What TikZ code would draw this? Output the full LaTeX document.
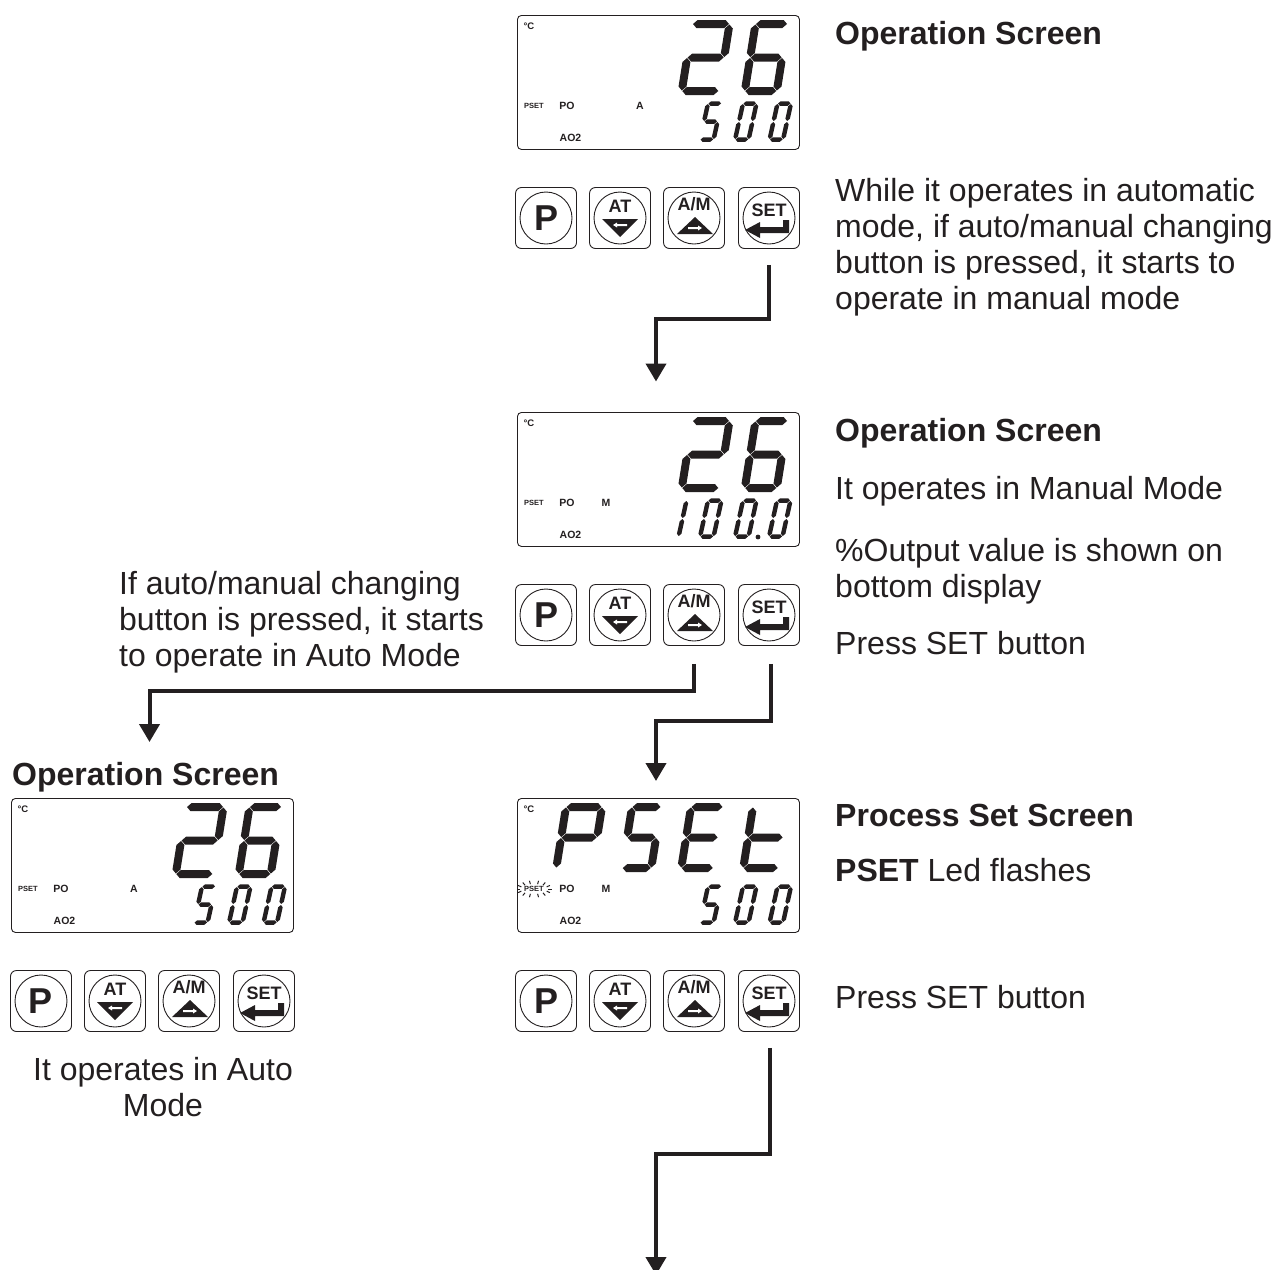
\documentclass[tikz,border=0pt]{standalone}
\usepackage{fontspec}
\setmainfont{Liberation Sans}
\usepackage{xcolor}
\definecolor{inkdark}{RGB}{35,31,32}
\usetikzlibrary{arrows.meta,calc}
% seven segment digit, (x,y) is the top left corner of its centre lines
\newcommand{\hseg}[1]{(0.5,#1) -- ({0.5+\segT/2},{#1-\segT/2}) -- ({\segW-0.5-\segT/2},{#1-\segT/2}) -- ({\segW-0.5},#1) -- ({\segW-0.5-\segT/2},{#1+\segT/2}) -- ({0.5+\segT/2},{#1+\segT/2}) -- cycle}
\newcommand{\vseg}[3]{(#1,{#2+0.5}) -- ({#1+\segT/2},{#2+0.5+\segT/2}) -- ({#1+\segT/2},{#3-0.5-\segT/2}) -- (#1,{#3-0.5}) -- ({#1-\segT/2},{#3-0.5-\segT/2}) -- ({#1-\segT/2},{#2+0.5+\segT/2}) -- cycle}
\newcommand{\sega}{\hseg{0}}
\newcommand{\segg}{\hseg{\segM}}
\newcommand{\segd}{\hseg{\segH}}
\newcommand{\segf}{\vseg{0}{0}{\segM}}
\newcommand{\sege}{\vseg{0}{\segM}{\segH}}
\newcommand{\segb}{\vseg{\segW}{0}{\segM}}
\newcommand{\segc}{\vseg{\segW}{\segM}{\segH}}
\newcommand{\segdigit}[7][0.16]{%
  \begin{scope}[shift={(#2,#3)},xslant=#1]
    \def\segW{#4}\def\segH{#5}\def\segT{#6}
    \pgfmathsetmacro{\segM}{#5/2}
    \foreach \s in {#7} {
      \expandafter\let\expandafter\segpath\csname seg\s\endcsname
      \fill[inkdark] \segpath;
    }
  \end{scope}}
\newcommand{\topread}{%
  \segdigit{175.5}{9}{37}{67}{8}{a,b,g,e,d}
  \segdigit{238.5}{9}{32}{67}{8}{a,f,g,e,c,d}}
\newcommand{\topset}{%
  \segdigit{49}{9}{36}{61}{8}{a,b,f,g,e}
  \segdigit{115}{9}{29}{61}{8}{a,f,g,c,d}
  \segdigit{174}{9}{32}{61}{8}{a,f,g,e,d}
  \segdigit{236}{9}{35}{61}{8}{f,g,e,d}}
\newcommand{\lowfive}{%
  \segdigit[0.22]{191}{88.5}{13.5}{36}{4.5}{a,f,g,c,d}
  \segdigit[0.22]{226}{88.5}{13.5}{36}{4.5}{a,b,c,d,e,f}
  \segdigit[0.22]{260.5}{88.5}{13.5}{36}{4.5}{a,b,c,d,e,f}}
\newcommand{\lowhundred}{%
  \segdigit[0.22]{156}{88.5}{13.5}{36}{4.5}{b,c}
  \segdigit[0.22]{191}{88.5}{13.5}{36}{4.5}{a,b,c,d,e,f}
  \segdigit[0.22]{226}{88.5}{13.5}{36}{4.5}{a,b,c,d,e,f}
  \segdigit[0.22]{260}{88.5}{13.5}{36}{4.5}{a,b,c,d,e,f}
  \fill[inkdark] (241,125) circle (2.4);}
\tikzset{
  lcdbox/.style={draw=inkdark, line width=0.9pt, rounded corners=4pt, minimum width=282pt,
                 minimum height=134pt, inner sep=0pt, anchor=north west},
  lcdmark/.style={text=inkdark, inner sep=0pt, font=\bfseries\fontsize{10.5}{12}\selectfont},
  lcdled/.style={text=inkdark, inner sep=0pt, font=\bfseries\fontsize{7.5}{9}\selectfont},
  keybox/.style={draw=inkdark, line width=0.9pt, rounded corners=6pt, minimum size=61pt, inner sep=0pt},
  keydisc/.style={draw=inkdark, line width=0.9pt, circle, minimum size=52pt, inner sep=0pt},
  keyletter/.style={text=inkdark, inner sep=0pt, font=\bfseries\fontsize{18}{20}\selectfont},
  headtext/.style={text=inkdark, inner sep=0pt, anchor=base west, font=\bfseries\fontsize{32}{36}\selectfont},
  bodytext/.style={text=inkdark, inner sep=0pt, anchor=north west, align=left, font=\fontsize{32}{36}\selectfont},
  flow/.style={draw=inkdark, line width=4pt, -{Triangle[length=18pt,width=20pt]}},
  pics/lcd/.style n args={4}{code={
    \node[lcdbox] (box) at (0,0) {};
    \node[lcdmark] (deg) at (12,11) {\fontsize{9.5}{10}\selectfont °C};
    \node[lcdled] (led) at (17,91) {PSET};
    \node[lcdmark] (po) at (50,91) {PO};
    \node[lcdmark] (mode) at (#1,91) {#2};
    \node[lcdmark] (ao) at (53.5,123) {AO2};
    #3
    #4
  }},
  pics/keypad/.style={code={
    \foreach \n/\x in {p/31,at/105,am/179,set/254} {
      \node[keybox] (\n) at (\x,31) {};
      \node[keydisc] (\n disc) at (\x,31) {};
    }
    \node[keyletter, font=\bfseries\fontsize{36}{38}\selectfont] (pname) at (31,31) {P};
    \node[keyletter] (atname) at (105,19) {AT};
    \node[keyletter] (amname) at (179,17) {A/M};
    \node[keyletter] (setname) at (254,23) {SET};
    % Down and up triangles
    \fill[inkdark] (87,32) -- (123,32) -- (105,50) -- cycle;
    \fill[white] (98,38) -- (102,35.5) -- (102,37) -- (112,37) -- (112,39) -- (102,39) -- (102,40.5) -- cycle;
    \fill[inkdark] (180,30) -- (198,47) -- (162,47) -- cycle;
    \fill[white] (187,41) -- (183,38.5) -- (183,40) -- (173,40) -- (173,42) -- (183,42) -- (183,43.5) -- cycle;
    % Enter arrow
    \fill[inkdark] (230,43) -- (245,35) -- (245,40) -- (268,40) -- (268,33) -- (274,33) -- (274,46) -- (245,46) -- (245,51) -- cycle;
  }}
}
\begin{document}
\begin{tikzpicture}[x=1pt, y=-1pt]
  \useasboundingbox (0,0) rectangle (1276,1269);
  % Displays
  \pic (la) at (517,15) {lcd={123}{A}{\topread}{\lowfive}};
  \pic (lb) at (517,412) {lcd={89}{M}{\topread}{\lowhundred}};
  \pic (lc) at (11,798) {lcd={123}{A}{\topread}{\lowfive}};
  \pic (ld) at (517,798) {lcd={89}{M}{\topset}{\lowfive}};
  % Flashing led
  \foreach \a in {0,25,50,75,105,130,155,180,205,230,255,285,310,335} {
    \draw[inkdark, line width=1pt] ($(ldled)+(\a:14 and 5)$) -- ($(ldled)+(\a:17.5 and 8.5)$);
  }
  % Keypads
  \pic (ka) at (515,187) {keypad};
  \pic (kb) at (515,584) {keypad};
  \pic (kc) at (10,970) {keypad};
  \pic (kd) at (515,970) {keypad};
  % Arrow ends
  \coordinate (ea) at (656,381.5);
  \coordinate (eb) at (656,781);
  \coordinate (ec) at (149.5,742);
  \coordinate (ed) at (656,1275);
  % Connections
  \draw[flow, shorten <=16pt] (kaset.south) -- ++(0,70) -| (ea);
  \draw[flow, shorten <=18pt] ([xshift=2pt]kbset.south) -- ++(0,75) -| (eb);
  \draw[flow, shorten <=18pt] (kbam.south) -- ++(0,45) -| (ec);
  \draw[flow, shorten <=16pt] ([xshift=1pt]kdset.south) -- ++(0,122) -| (ed);
  % Right column
  \node[headtext] (ta) at (835,44) {Operation Screen};
  \node[bodytext] (tb) at (835,178) {While it operates in automatic\\mode, if auto/manual changing\\button is pressed, it starts to\\operate in manual mode};
  \node[headtext] (tc) at (835,441) {Operation Screen};
  \node[bodytext] (td) at (835,476) {It operates in Manual Mode};
  \node[bodytext] (te) at (835,538) {\%Output value is shown on\\bottom display};
  \node[bodytext] (tf) at (835,631) {Press SET button};
  \node[headtext] (tg) at (835,826) {Process Set Screen};
  \node[bodytext] (th) at (835,858) {\textbf{PSET} Led flashes};
  \node[bodytext] (ti) at (835,985) {Press SET button};
  % Left column
  \node[bodytext] (tj) at (119,571) {If auto/manual changing\\button is pressed, it starts\\to operate in Auto Mode};
  \node[headtext] (tk) at (12,785) {Operation Screen};
  \node[bodytext, anchor=north, align=center] (tl) at (163,1057) {It operates in Auto\\Mode};
\end{tikzpicture}
\end{document}
